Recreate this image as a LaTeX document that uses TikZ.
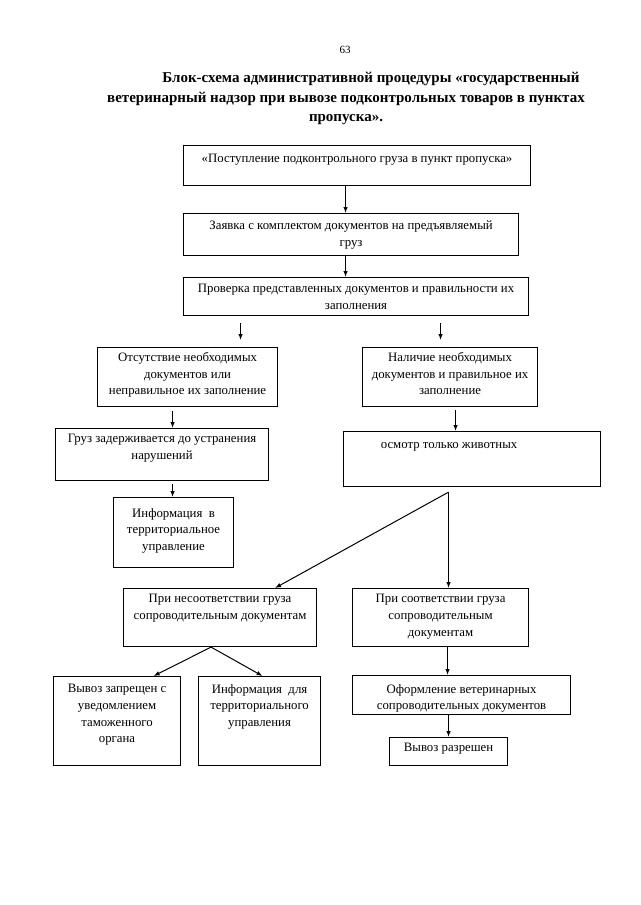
\documentclass[tikz,border=0pt]{standalone}
\usepackage{fontspec}
\setmainfont{Liberation Serif}
\usetikzlibrary{arrows.meta}

\begin{document}
\begin{tikzpicture}[
  x=1pt, y=-1pt,
  box/.style={draw, line width=1.1pt, anchor=north west, inner sep=0pt},
  txt/.style={anchor=north, align=center, inner sep=0pt, yshift=-6pt, font=\fontsize{12.8}{16.8}\selectfont, execute at begin node=\strut},
  arr/.style={line width=1pt, -{Latex[length=6pt,width=4.5pt]}}
]
\useasboundingbox (0,0) rectangle (640,905);
\node[font=\fontsize{11}{13}\selectfont] (num) at (345,50) {63};
\node[anchor=north, align=center, inner sep=0pt, font=\fontsize{15}{19.5}\selectfont\bfseries] (title) at (346,72)
  {\hspace*{50pt}Блок-схема административной процедуры «государственный\\ветеринарный надзор при вывозе подконтрольных товаров в пунктах\\пропуска».};

\node[box, minimum width=347pt, minimum height=40pt, label={[txt]north:{«Поступление подконтрольного груза в пункт пропуска»}}] (n1) at (183,145) {};
\node[box, minimum width=335pt, minimum height=42pt, label={[txt,yshift=-2pt]north:{Заявка с комплектом документов на предъявляемый\\груз}}] (n2) at (183,213) {};
\node[box, minimum width=345pt, minimum height=38pt, label={[txt,yshift=-1pt]north:{Проверка представленных документов и правильности их\\заполнения}}] (n3) at (183,277) {};

\node[box, minimum width=180pt, minimum height=59pt, label={[txt,yshift=1pt]north:{Отсутствие необходимых\\документов или\\неправильное их заполнение}}] (n4) at (97,347) {};
\node[box, minimum width=175pt, minimum height=59pt, label={[txt,yshift=1pt]north:{Наличие необходимых\\документов и правильное их\\заполнение}}] (n5) at (362,347) {};

\node[box, minimum width=213pt, minimum height=52pt, label={[txt]north:{Груз задерживается до устранения\\нарушений}}] (n6) at (55,428) {};
\node[box, minimum width=257pt, minimum height=55pt, label={[txt,xshift=-23pt]north:{осмотр только животных}}] (n7) at (343,431) {};
\node[box, minimum width=120pt, minimum height=70pt, label={[txt,yshift=-5pt]north:{Информация~~в\\территориальное\\управление}}] (n8) at (113,497) {};

\node[box, minimum width=193pt, minimum height=58pt, label={[txt]north:{При несоответствии груза\\сопроводительным документам}}] (n9) at (123,588) {};
\node[box, minimum width=176pt, minimum height=58pt, label={[txt]north:{При соответствии груза\\сопроводительным\\документам}}] (n10) at (352,588) {};

\node[box, minimum width=127pt, minimum height=89pt, label={[txt,yshift=-2pt]north:{Вывоз запрещен с\\уведомлением\\таможенного\\органа}}] (n11) at (53,676) {};
\node[box, minimum width=122pt, minimum height=89pt, label={[txt,yshift=-2pt]north:{Информация~~для\\территориального\\управления}}] (n12) at (198,676) {};
\node[box, minimum width=218pt, minimum height=39pt, label={[txt,yshift=-3pt]north:{Оформление ветеринарных\\сопроводительных документов}}] (n13) at (352,675) {};
\node[box, minimum width=118pt, minimum height=28pt, label={[txt,yshift=3pt]north:{Вывоз разрешен}}] (n14) at (389,737) {};

\coordinate (f1) at ([xshift=-23.5pt,yshift=-5pt]n7.south);
\coordinate (f2) at ([xshift=-9pt]n9.south);

\draw[arr] ([xshift=-11.5pt]n1.south) -- ([xshift=-11.5pt]n1.south |- n2.north);
\draw[arr] ([xshift=-5.5pt]n2.south) -- ([xshift=-5.5pt]n2.south |- n3.north);
\draw[arr, shorten <=7pt, shorten >=7pt] ([xshift=53pt]n4.north |- n3.south) -- ([xshift=53pt]n4.north);
\draw[arr, shorten <=7pt, shorten >=7pt] ([xshift=-9.5pt]n5.north |- n3.south) -- ([xshift=-9.5pt]n5.north);
\draw[arr, shorten <=4pt] ([xshift=-15pt]n4.south) -- ([xshift=-15pt]n4.south |- n6.north);
\draw[arr, shorten <=3pt] ([xshift=5.5pt]n5.south) -- ([xshift=5.5pt]n5.south |- n7.north);
\draw[arr, shorten <=3pt] ([xshift=10.5pt]n6.south) -- ([xshift=10.5pt]n6.south |- n8.north);
\draw[arr] (f1) -- ([xshift=55pt]n9.north); \draw[arr] (f1) -- (f1 |- n10.north);
\draw[arr] (f2) -- ([xshift=36.5pt]n11.north); \draw[arr] (f2) -- ([xshift=3pt]n12.north);
\draw[arr] ([xshift=7pt]n10.south) -- ([xshift=7pt]n10.south |- n13.north);
\draw[arr] (n14.north |- n13.south) -- (n14.north);
\end{tikzpicture}
\end{document}
